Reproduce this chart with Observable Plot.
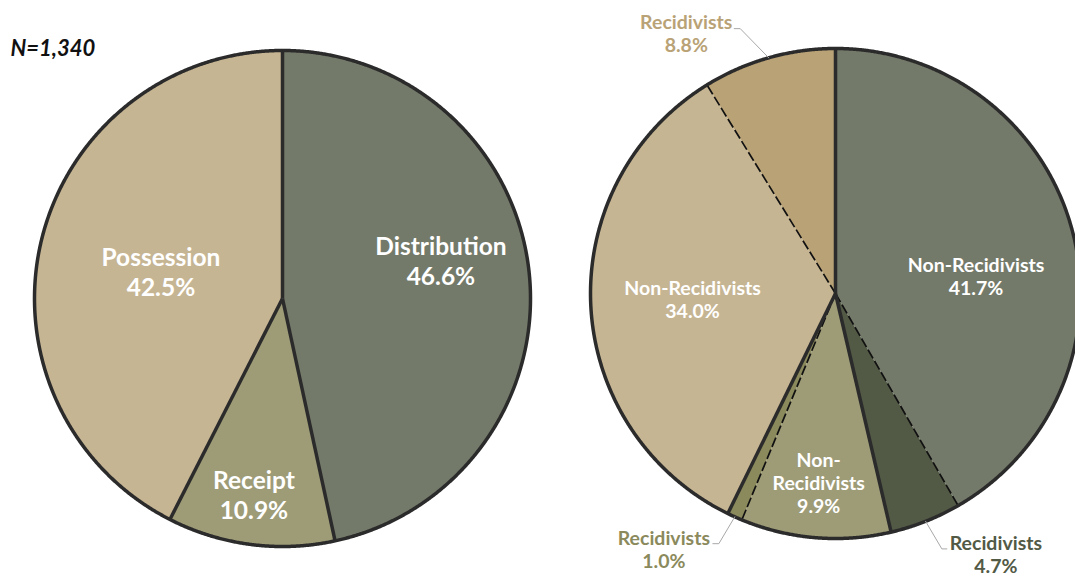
<!DOCTYPE html>
<html><head><meta charset="utf-8">
<script src="https://cdn.jsdelivr.net/npm/d3@7"></script>
<script src="https://cdn.jsdelivr.net/npm/@observablehq/plot@0.6"></script>
<style>body{margin:0;background:#fff;}#chart svg{display:block;}</style>
</head><body><div id="chart"></div>
<script>
// ---- data ----
const sampleLabel = "N=1,340";
const offenseTypes = ["Distribution", "Receipt", "Possession"];
const offenseShares = [46.6, 10.9, 42.5];
const recidGroups = ["Distribution", "Distribution", "Receipt", "Receipt", "Possession", "Possession"];
const recidStatus = ["Non-Recidivists", "Recidivists", "Non-Recidivists", "Recidivists", "Non-Recidivists", "Recidivists"];
const recidShares = [41.7, 4.7, 9.9, 1.0, 34.0, 8.8];

// ---- styles & layout ----
const baseColors = {Distribution: "#747a6a", Receipt: "#9e9b77", Possession: "#c6b593"};
const recidColors = {Distribution: "#525a46", Receipt: "#8b8a5c", Possession: "#b9a276"};
const W = 1075, H = 578;
const leftPie = {cx: 282, cy: 298, r: 248};
const rightPie = {cx: 835, cy: 293, r: 245};
// label placement: angle offset (deg) from slice mid-angle, radius fraction
const leftLabelPos = [{da: -7.4, k: 0.657}, {da: 0.9, k: 0.80}, {da: -1.0, k: 0.502}];
const rightLabelPos = [
  {da: 7.9, k: 0.578},
  {da: -10.0, k: 1.25, outside: true, ex: -54, ey: -5.5, end: -49},
  {da: 0.4, k: 0.775, wrap: true},
  {da: 9.6, k: 1.257, outside: true, ex: 55, ey: -5.5, end: 49},
  {da: 0.6, k: 0.584},
  {da: -14.0, k: 1.225, outside: true, ex: 54, ey: -4.5, end: 48}
];
const outlineColor = "#2b2b2b";

// ---- geometry helpers ----
const rad = d => d * Math.PI / 180;
function polar(p, r, deg) { return [p.cx + r * Math.sin(rad(deg)), p.cy - r * Math.cos(rad(deg))]; }
function angles(shares) {
  const total = d3.sum(shares);
  let acc = 0;
  return shares.map(v => { const a0 = acc / total * 360; acc += v; const a1 = acc / total * 360; return {a0, a1, mid: (a0 + a1) / 2}; });
}
function slicePoly(p, a0, a1, key, color) {
  const pts = [{key, color, x: p.cx, y: p.cy}];
  const n = Math.max(2, Math.ceil((a1 - a0) / 0.25));
  for (let i = 0; i <= n; i++) { const [x, y] = polar(p, p.r, a0 + (a1 - a0) * i / n); pts.push({key, color, x, y}); }
  return pts;
}

const leftAng = angles(offenseShares);
const rightAng = angles(recidShares);

const sliceRows = [];
leftAng.forEach((a, i) => sliceRows.push(...slicePoly(leftPie, a.a0, a.a1, "L" + i, baseColors[offenseTypes[i]])));
rightAng.forEach((a, i) => sliceRows.push(...slicePoly(rightPie, a.a0, a.a1, "R" + i,
  recidStatus[i] === "Recidivists" ? recidColors[recidGroups[i]] : baseColors[recidGroups[i]])));

// separators
const solidSeps = [], dashedSeps = [];
function sep(p, deg, arr) { const [x2, y2] = polar(p, p.r, deg); arr.push({x1: p.cx, y1: p.cy, x2, y2}); }
leftAng.forEach(a => sep(leftPie, a.a0, solidSeps));
rightAng.forEach((a, i) => {
  const sameGroup = i > 0 && recidGroups[i] === recidGroups[i - 1];
  sep(rightPie, a.a0, sameGroup ? dashedSeps : solidSeps);
});

// outlines
const outlineRows = [];
[leftPie, rightPie].forEach((p, j) => { for (let d = 0; d < 360; d += 0.25) { const [x, y] = polar(p, p.r, d); outlineRows.push({pie: j, x, y}); } });

// labels
const leftLabels = leftAng.map((a, i) => {
  const [x, y] = polar(leftPie, leftPie.r * leftLabelPos[i].k, a.mid + leftLabelPos[i].da);
  return {x, y, text: `${offenseTypes[i]}\n${offenseShares[i].toFixed(1)}%`};
});
const rightInner = [], rightOuter = [], leaderRows = [];
rightAng.forEach((a, i) => {
  const L = rightLabelPos[i];
  const [x, y] = polar(rightPie, rightPie.r * L.k, a.mid + L.da);
  const status = L.wrap ? recidStatus[i].replace("-", "-\n") : recidStatus[i];
  const row = {x, y, text: `${status}\n${recidShares[i].toFixed(1)}%`, color: recidColors[recidGroups[i]]};
  if (L.outside) {
    rightOuter.push(row);
    const [ex, ey] = polar(rightPie, rightPie.r, a.mid);
    leaderRows.push({key: i, x: ex, y: ey});
    leaderRows.push({key: i, x: x + L.ex, y: y + L.ey});
    leaderRows.push({key: i, x: x + L.end, y: y + L.ey});
  } else rightInner.push(row);
});

const chart = Plot.plot({
  width: W, height: H,
  margin: 0,
  x: {domain: [0, W], range: [0, W], axis: null},
  y: {domain: [0, H], range: [0, H], axis: null},
  color: {type: "identity"},
  style: {fontFamily: "Lato, 'Open Sans', sans-serif", background: "#fff", overflow: "hidden"},
  marks: [
    Plot.line(sliceRows, {x: "x", y: "y", z: "key", fill: "color", stroke: "none", curve: "linear-closed"}),
    Plot.link(dashedSeps, {x1: "x1", y1: "y1", x2: "x2", y2: "y2", stroke: "#111", strokeWidth: 1.7, strokeDasharray: "10,3"}),
    Plot.link(solidSeps, {x1: "x1", y1: "y1", x2: "x2", y2: "y2", stroke: outlineColor, strokeWidth: 3.5}),
    Plot.line(outlineRows, {x: "x", y: "y", z: "pie", fill: "none", stroke: outlineColor, strokeWidth: 3.5, curve: "linear-closed"}),
    Plot.line(leaderRows, {x: "x", y: "y", z: "key", stroke: "#a8a8a8", strokeWidth: 1}),
    Plot.text(leftLabels, {x: "x", y: "y", text: "text", fill: "white", fontSize: 24.5, fontWeight: "bold", lineHeight: 1.22}),
    Plot.text(rightInner, {x: "x", y: "y", text: "text", fill: "white", fontSize: 19.5, fontWeight: "bold", lineHeight: 1.18}),
    Plot.text(rightOuter, {x: "x", y: "y", text: "text", fill: "color", fontSize: 19.5, fontWeight: "bold", lineHeight: 1.18}),
    Plot.text([sampleLabel], {frameAnchor: "top-left", text: d => d, dx: 10, dy: 39.5, lineAnchor: "top", textAnchor: "start", fontSize: 22, fontWeight: "bold", fontStyle: "italic", fill: "#111"})
  ]
});
document.getElementById("chart").appendChild(chart);
</script>
</body></html>
